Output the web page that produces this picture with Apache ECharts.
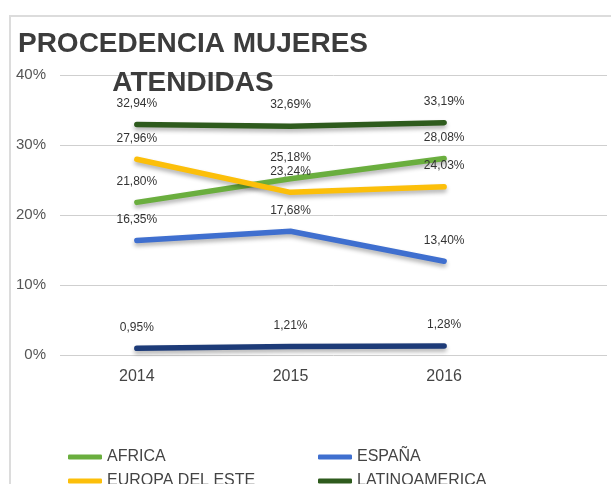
<!DOCTYPE html>
<html>
<head>
<meta charset="UTF-8">
<title>Procedencia mujeres atendidas</title>
<script src="https://cdn.jsdelivr.net/npm/echarts@6/dist/echarts.min.js"></script>
<style>
  html, body { margin: 0; padding: 0; background: #fff; }
  #chart { width: 611px; height: 484px; }
</style>
</head>
<body>
<div id="chart"></div>
<script>
// datos
var years = [2014, 2015, 2016];
var africa = [21.80, 25.18, 28.08];
var espana = [16.35, 17.68, 13.40];
var europaEste = [27.96, 23.24, 24.03];
var latinoamerica = [32.94, 32.69, 33.19];
var otros = [0.95, 1.21, 1.28];
var yTicks = [0, 10, 20, 30, 40];

var chart = echarts.init(document.getElementById('chart'));

function pct(v) {
  return v.toFixed(2).replace('.', ',') + '%';
}

function serie(name, values, color) {
  return {
    type: 'line',
    name: name,
    data: values.map(function (v, i) { return [years[i], v]; }),
    symbol: 'circle',
    symbolSize: 0,
    lineStyle: {
      width: 5.5,
      color: color,
      cap: 'round',
      shadowColor: 'rgba(0,0,0,0.3)',
      shadowBlur: 4,
      shadowOffsetY: 3
    },
    itemStyle: { color: color },
    label: {
      show: true,
      position: 'top',
      distance: 15,
      color: '#333',
      fontSize: 12,
      fontFamily: 'Liberation Sans',
      formatter: function (p) { return pct(p.value[1]); }
    },
    emphasis: { disabled: true }
  };
}

var legendText = { color: '#444', fontSize: 16, fontFamily: 'Liberation Sans', lineHeight: 18 };

var option = {
  animation: false,
  graphic: [{
    type: 'rect',
    shape: { x: 10, y: 16, width: 700, height: 600 },
    style: { fill: 'none', stroke: '#dcdcdc', lineWidth: 2 },
    z: -1
  }],
  title: {
    text: 'PROCEDENCIA MUJERES\nATENDIDAS',
    left: 188,
    top: 20,
    textAlign: 'center',
    textStyle: {
      color: '#3c3c3c',
      fontSize: 28,
      fontWeight: 'bold',
      fontFamily: 'Liberation Sans',
      lineHeight: 39
    },
    z: 10
  },
  legend: [{
    orient: 'vertical',
    left: 68,
    top: 448,
    height: 200,
    padding: 0,
    itemWidth: 34,
    itemHeight: 5,
    itemGap: 6,
    icon: 'roundRect',
    textStyle: legendText,
    data: ['AFRICA', 'EUROPA DEL ESTE', 'OTROS']
  }, {
    orient: 'vertical',
    left: 318,
    top: 448,
    height: 200,
    padding: 0,
    itemWidth: 34,
    itemHeight: 5,
    itemGap: 6,
    icon: 'roundRect',
    textStyle: legendText,
    data: ['ESPAÑA', 'LATINOAMERICA']
  }],
  grid: { left: 60, right: 4, top: 75, bottom: 129 },
  xAxis: {
    type: 'value',
    min: 2013.5,
    max: 2017.06,
    axisLine: { show: false },
    axisTick: { show: false },
    splitLine: { show: false },
    axisLabel: {
      customValues: years,
      formatter: function (v) { return String(v); },
      color: '#444',
      fontSize: 16,
      fontFamily: 'Liberation Sans',
      margin: 14
    }
  },
  yAxis: {
    type: 'value',
    min: yTicks[0],
    max: yTicks[yTicks.length - 1],
    interval: 10,
    axisLine: { show: false },
    axisTick: { show: false },
    splitLine: { lineStyle: { color: '#cfcfcf', width: 1 } },
    axisLabel: {
      formatter: '{value}%',
      color: '#555',
      fontSize: 15,
      fontFamily: 'Liberation Sans',
      margin: 14
    }
  },
  series: [
    serie('AFRICA', africa, '#6aae3e'),
    serie('ESPAÑA', espana, '#3f6fcf'),
    serie('EUROPA DEL ESTE', europaEste, '#fcbf0a'),
    serie('LATINOAMERICA', latinoamerica, '#2e5b1d'),
    serie('OTROS', otros, '#1d3b78')
  ]
};

chart.setOption(option);
</script>
</body>
</html>
